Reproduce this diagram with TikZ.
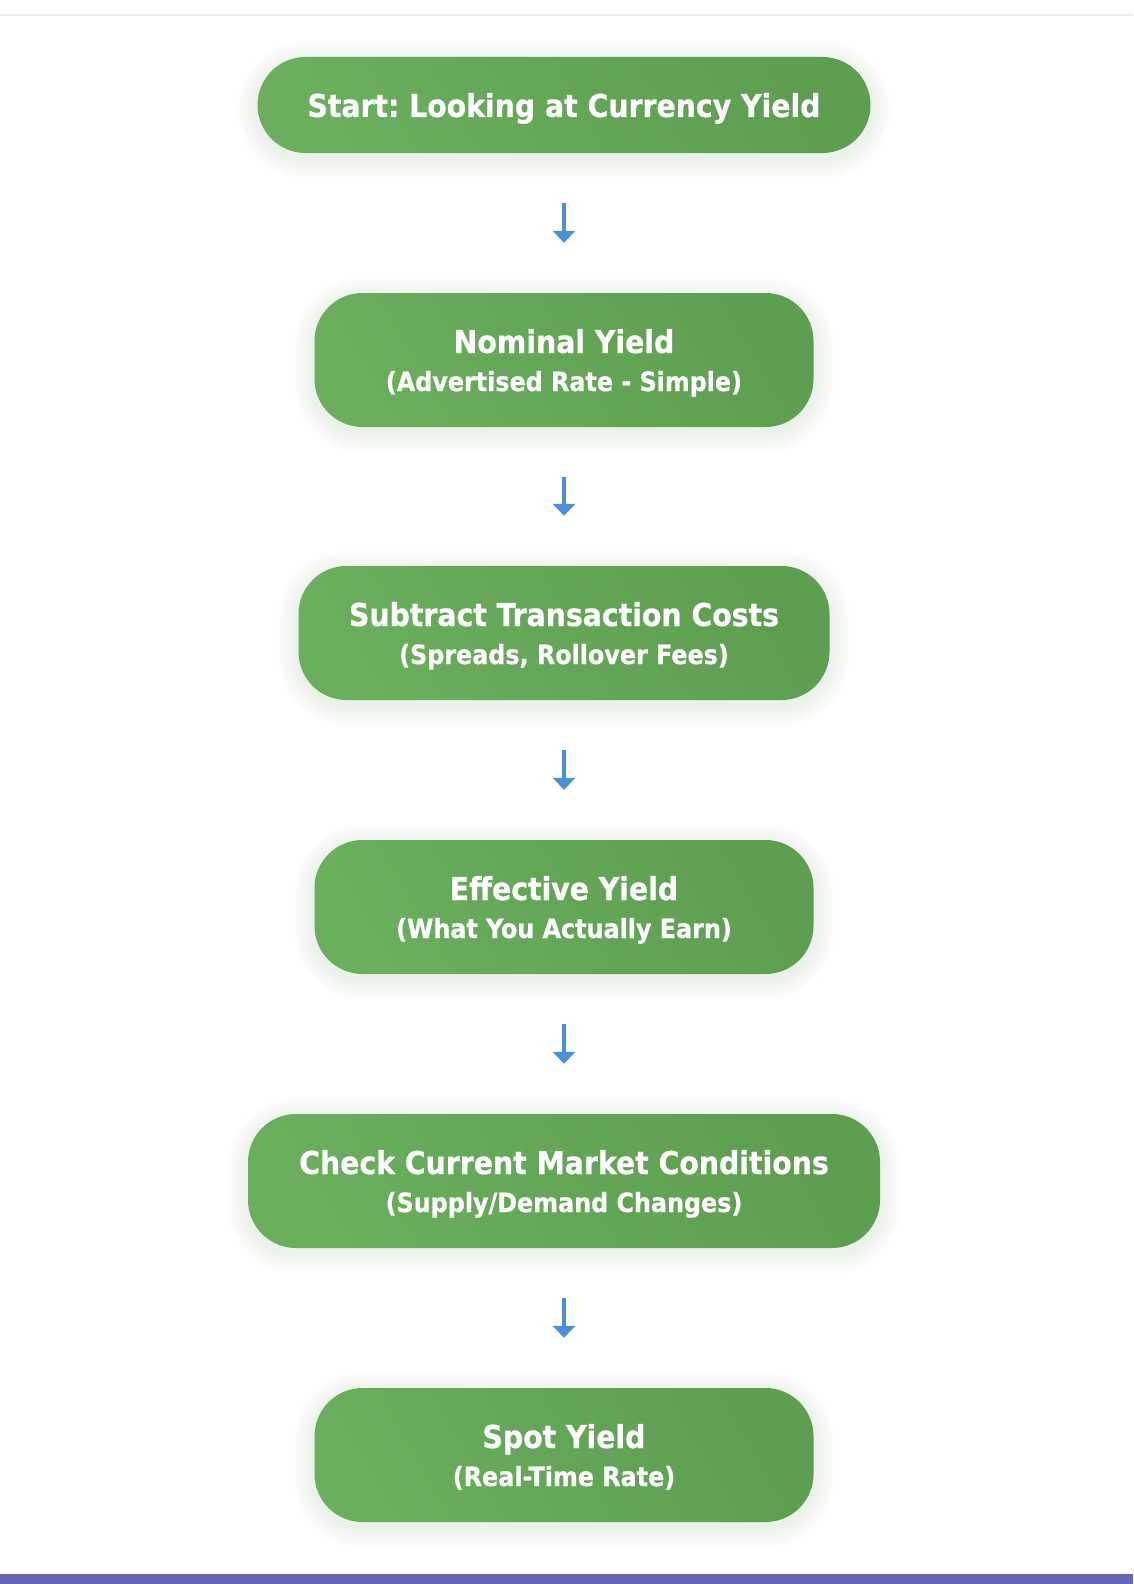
\documentclass[tikz,border=0pt]{standalone}
\usepackage{fontspec}
\setmainfont{DejaVu Sans Condensed}
\newfontfamily\boxfont{DejaVu Sans Condensed Bold}[FakeBold=0.7]
\frenchspacing
\usetikzlibrary{arrows.meta}
\definecolor{boxgreenA}{HTML}{6AAE5E}
\definecolor{boxgreenB}{HTML}{5E9E51}
\definecolor{glowgreen}{HTML}{5FA552}
\definecolor{arrowblue}{HTML}{4A90D9}
\definecolor{topline}{HTML}{E4EFF2}
\definecolor{bottombar}{HTML}{6466B9}
\newcommand\mytitlefont{\frenchspacing\boxfont\fontsize{31.5}{36}\selectfont}
\newcommand\mysubfont{\frenchspacing\boxfont\fontsize{26.5}{30}\selectfont}
\newcommand\glowbox[4]{%
  \foreach \k in {1,...,10}{%
    \pgfmathsetmacro\rr{48+\k*2}%
    \fill[glowgreen, opacity=0.011, rounded corners=\rr pt]
      ({#1-#3/2-\k*2}, {#2+5-#4/2-\k*2}) rectangle ({#1+#3/2+\k*2}, {#2+5+#4/2+\k*2});
  }}
\tikzset{
  flowbox/.style={draw=none, rounded corners=48pt, left color=boxgreenA, right color=boxgreenB,
    shading angle=120, inner sep=0pt},
  titletext/.style={text=white, font=\mytitlefont, anchor=base, inner sep=0pt},
  subtext/.style={text=white, font=\mysubfont, anchor=base, inner sep=0pt},
  flowarrow/.style={draw=arrowblue, line width=4pt, -{Triangle[width=22pt,length=12pt]},
    shorten <=50pt, shorten >=50pt}
}
\begin{document}
\begin{tikzpicture}[x=1pt,y=-1pt]
\useasboundingbox (0,0) rectangle (1133,1584);
\fill[white] (0,0) rectangle (1133,1584);
\draw[topline, line width=2pt] (0,15) -- (1133,15);
\fill[bottombar] (0,1574) rectangle (1133,1584);

% glows
\glowbox{564}{105}{613}{96}
\glowbox{564}{360}{499}{134}
\glowbox{564}{633}{531}{134}
\glowbox{564}{907}{499}{134}
\glowbox{564}{1181}{632}{134}
\glowbox{564}{1455}{499}{134}

% boxes
\node[flowbox, minimum width=613pt, minimum height=96pt] (b1) at (564,105) {};
\node[flowbox, minimum width=499pt, minimum height=134pt] (b2) at (564,360) {};
\node[flowbox, minimum width=531pt, minimum height=134pt] (b3) at (564,633) {};
\node[flowbox, minimum width=499pt, minimum height=134pt] (b4) at (564,907) {};
\node[flowbox, minimum width=632pt, minimum height=134pt] (b5) at (564,1181) {};
\node[flowbox, minimum width=499pt, minimum height=134pt] (b6) at (564,1455) {};

% texts
\node[titletext] (t1) at ([yshift=-12pt]b1.center) {Start: Looking at Currency Yield};
\node[titletext] (t2) at ([yshift=7pt]b2.center) {Nominal Yield};
\node[subtext] (s2) at ([yshift=-31pt]b2.center) {(Advertised Rate - Simple)};
\node[titletext] (t3) at ([yshift=7pt]b3.center) {Subtract Transaction Costs};
\node[subtext] (s3) at ([yshift=-31pt]b3.center) {(Spreads, Rollover Fees)};
\node[titletext] (t4) at ([yshift=7pt]b4.center) {Effective Yield};
\node[subtext] (s4) at ([yshift=-31pt]b4.center) {(What You Actually Earn)};
\node[titletext] (t5) at ([yshift=7pt]b5.center) {Check Current Market Conditions};
\node[subtext] (s5) at ([yshift=-31pt]b5.center) {(Supply/Demand Changes)};
\node[titletext] (t6) at ([yshift=7pt]b6.center) {Spot Yield};
\node[subtext] (s6) at ([yshift=-31pt]b6.center) {(Real-Time Rate)};

% arrows
\draw[flowarrow] (b1.south) -- (b2.north);
\draw[flowarrow] (b2.south) -- (b3.north);
\draw[flowarrow] (b3.south) -- (b4.north);
\draw[flowarrow] (b4.south) -- (b5.north);
\draw[flowarrow] (b5.south) -- (b6.north);
\end{tikzpicture}
\end{document}
